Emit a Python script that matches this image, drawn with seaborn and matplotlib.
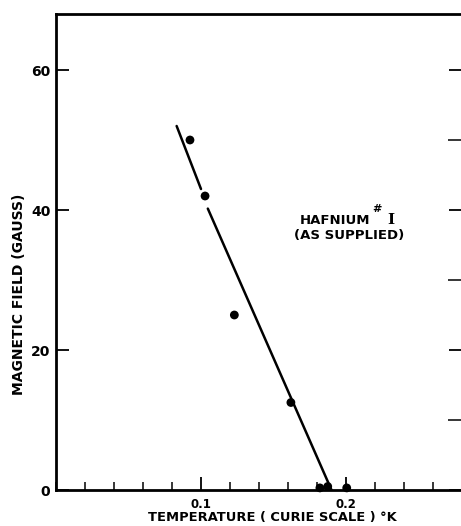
import matplotlib
matplotlib.use("Agg")
import matplotlib.pyplot as plt
from matplotlib.ticker import MultipleLocator, FixedLocator
import seaborn as sns
import pandas as pd

# Measured data
temperature = [0.0924, 0.1028, 0.1230, 0.1620, 0.1820, 0.1874, 0.2005]
field = [50.0, 42.0, 25.0, 12.5, 0.3, 0.5, 0.3]

# Fitted line (broken around the point at 42 G)
line_T = [0.0832, 0.1000, 0.1047, 0.1900]
line_H = [52.0, 43.0, 40.2, 0.0]
line_seg = [0, 0, 1, 1]

x_major = [0.1, 0.2]
x_labels = ["0.1", "0.2"]
y_major = [0, 20, 40, 60]

sns.set_theme(style="ticks")
plt.rcParams["font.family"] = ["DejaVu Sans"]
plt.rcParams["text.color"] = "black"
plt.rcParams["axes.labelcolor"] = "black"

fig = plt.figure(figsize=(4.61, 5.26), dpi=100)
ax = fig.add_axes([56 / 461, 1 - 490 / 526, 406 / 461, 476 / 526])

pts = pd.DataFrame({"T": temperature, "H": field})
lin = pd.DataFrame({"T": line_T, "H": line_H, "seg": line_seg})

sns.lineplot(data=lin, x="T", y="H", units="seg", estimator=None, sort=False,
             color="black", linewidth=1.8, ax=ax, zorder=2)
sns.scatterplot(data=pts, x="T", y="H", color="black", s=40, edgecolor="none",
                ax=ax, zorder=3, clip_on=False)

ax.set_xlim(0, 0.28)
ax.set_ylim(0, 68)

ax.xaxis.set_major_locator(FixedLocator(x_major))
ax.set_xticklabels(x_labels)
ax.xaxis.set_minor_locator(MultipleLocator(0.02))
ax.yaxis.set_major_locator(FixedLocator(y_major))
ax.yaxis.set_minor_locator(MultipleLocator(10))

ax.tick_params(axis="x", which="major", direction="in", length=9.4, width=1.3,
               top=False, labelsize=8.5, pad=6, colors="black")
ax.tick_params(axis="x", which="minor", direction="in", length=5.8, width=1.3, top=False)
ax.tick_params(axis="y", which="major", direction="in", length=9.4, width=1.3,
               left=True, right=True, labelsize=10, pad=4, colors="black")
ax.tick_params(axis="y", which="minor", direction="in", length=10, width=1.3,
               left=False, right=True)
for lbl in ax.get_xticklabels() + ax.get_yticklabels():
    lbl.set_fontweight("bold")

for sp in ax.spines.values():
    sp.set_linewidth(2.0)
    sp.set_color("black")

ax.set_xlabel("TEMPERATURE ( CURIE SCALE ) °K", fontsize=9.4, fontweight="bold")
ax.set_ylabel("MAGNETIC FIELD (GAUSS)", fontsize=10, fontweight="bold")
ax.xaxis.set_label_coords((272 - 56) / 406, -0.044)
ax.yaxis.set_label_coords(-30 / 406, (490 - 294) / 476)

ax.text(0.773, 0.567, "HAFNIUM", transform=ax.transAxes, fontsize=9.5,
        fontweight="bold", ha="right", va="center")
ax.text(0.778, 0.59, "#", transform=ax.transAxes, fontsize=8,
        fontweight="bold", ha="left", va="center")
ax.text(0.815, 0.567, "I", transform=ax.transAxes, fontsize=11,
        family="DejaVu Serif", fontweight="bold", ha="left", va="center")
ax.text(0.722, 0.534, "(AS SUPPLIED)", transform=ax.transAxes, fontsize=9.5,
        fontweight="bold", ha="center", va="center")

fig.savefig("out.png", dpi=100)
